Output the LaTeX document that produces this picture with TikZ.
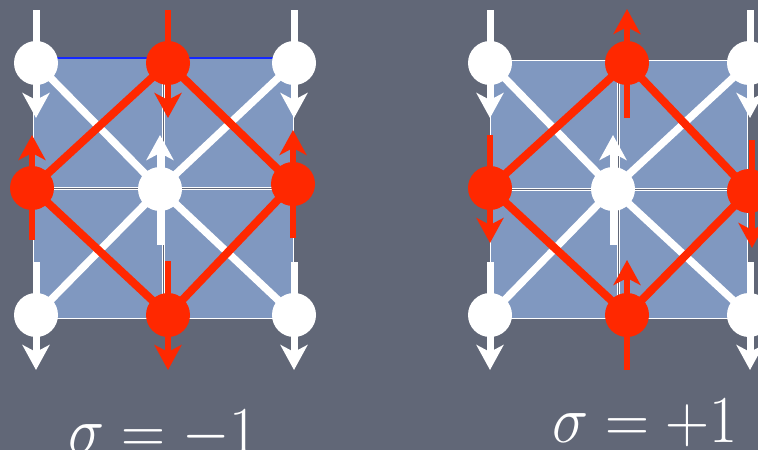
\RequirePackage{fix-cm}
\documentclass[tikz,border=0pt]{standalone}
\usepackage{graphicx}
\usetikzlibrary{arrows.meta}
\definecolor{bgc}{RGB}{97,103,119}
\definecolor{tilec}{RGB}{128,152,192}
\definecolor{redc}{RGB}{255,40,0}
\definecolor{edgeblue}{RGB}{20,40,255}
\pgfdeclarelayer{bg}
\pgfdeclarelayer{lines}
\pgfsetlayers{bg,lines,main}
\begin{document}
\begin{tikzpicture}[x=1pt,y=-1pt,
  tile/.style={fill=tilec,draw=white,line width=1pt},
  wdot/.style={circle,fill=white,minimum size=44pt,inner sep=0pt},
  rdot/.style={circle,fill=redc,minimum size=44pt,inner sep=0pt},
  wline/.style={draw=white,line width=7.5pt},
  rline/.style={draw=redc,line width=8pt,line join=round},
  tipshape/.style={-{Stealth[length=25pt,width=27pt,inset=7pt]}},
  warrow/.style={draw=white,line width=7pt,tipshape},
  rarrow/.style={draw=redc,line width=6.5pt,tipshape},
  lbl/.style={text=white,inner sep=0pt,anchor=base,font=\fontsize{61}{64}\selectfont}
]
\useasboundingbox (0,0) rectangle (758,450);
\begin{pgfonlayer}{bg}
  \fill[bgc] (0,0) rectangle (758,450);
  % left tiles
  \draw[tile] (33,58) rectangle (162,187);
  \draw[tile] (164,58) rectangle (293,187);
  \draw[tile] (33,189) rectangle (162,318);
  \draw[tile] (164,189) rectangle (293,318);
  \draw[edgeblue,line width=1.5pt] (33,58) -- (293,58);
  % right tiles
  \draw[tile] (490,60) rectangle (617,188);
  \draw[tile] (619,60) rectangle (747,188);
  \draw[tile] (490,190) rectangle (617,318);
  \draw[tile] (619,190) rectangle (747,318);
\end{pgfonlayer}

% ---------- left figure: sites ----------
\node[wdot] (Ltl) at (36,63) {};
\node[rdot] (Lt)  at (168,63) {};
\node[wdot] (Ltr) at (294,63) {};
\node[rdot] (Ll)  at (32,188) {};
\node[wdot] (Lc)  at (160,189) {};
\node[rdot] (Lr)  at (293,184) {};
\node[wdot] (Lbl) at (36,315) {};
\node[rdot] (Lb)  at (168,315) {};
\node[wdot] (Lbr) at (294,315) {};

% ---------- right figure: sites ----------
\node[wdot] (Rtl) at (490,63) {};
\node[rdot] (Rt)  at (627,63) {};
\node[wdot] (Rtr) at (749,63) {};
\node[rdot] (Rl)  at (490,188) {};
\node[wdot] (Rc)  at (613,189) {};
\node[rdot] (Rr)  at (749,191) {};
\node[wdot] (Rbl) at (490,315) {};
\node[rdot] (Rb)  at (627,315) {};
\node[wdot] (Rbr) at (749,315) {};

% arrow end points, left
\coordinate (La1s) at (36,10);   \coordinate (La1e) at (36,118);
\coordinate (La2s) at (32,240);  \coordinate (La2e) at (32,135);
\coordinate (La3s) at (36,262);  \coordinate (La3e) at (36,370);
\coordinate (La4s) at (168,10);  \coordinate (La4e) at (168,118);
\coordinate (La5s) at (160,245); \coordinate (La5e) at (160,135);
\coordinate (La6s) at (168,261); \coordinate (La6e) at (168,370);
\coordinate (La7s) at (294,10);  \coordinate (La7e) at (294,118);
\coordinate (La8s) at (293,238); \coordinate (La8e) at (293,130);
\coordinate (La9s) at (294,262); \coordinate (La9e) at (294,370);
% arrow end points, right
\coordinate (Ra1s) at (490,10);  \coordinate (Ra1e) at (490,118);
\coordinate (Ra2s) at (490,135); \coordinate (Ra2e) at (490,243);
\coordinate (Ra3s) at (490,262); \coordinate (Ra3e) at (490,370);
\coordinate (Ra4s) at (627,118); \coordinate (Ra4e) at (627,9);
\coordinate (Ra5s) at (613,245); \coordinate (Ra5e) at (613,135);
\coordinate (Ra6s) at (627,370); \coordinate (Ra6e) at (627,260);
\coordinate (Ra7s) at (750,10);  \coordinate (Ra7e) at (750,118);
\coordinate (Ra8s) at (752,140); \coordinate (Ra8e) at (752,248);
\coordinate (Ra9s) at (750,262); \coordinate (Ra9e) at (750,370);

\begin{pgfonlayer}{lines}
  % white diagonals
  \draw[wline] (Ltl.center) -- (Lc.center) -- (Lbr.center);
  \draw[wline] (Ltr.center) -- (Lc.center) -- (Lbl.center);
  \draw[wline] (Rtl.center) -- (Rc.center) -- (Rbr.center);
  \draw[wline] (Rtr.center) -- (Rc.center) -- (Rbl.center);
  % red diamonds
  \draw[rline] (Lt.center) -- (Ll.center) -- (Lb.center) -- (Lr.center) -- cycle;
  \draw[rline] (Rt.center) -- (Rl.center) -- (Rb.center) -- (Rr.center) -- cycle;
  % spins, left
  \draw[warrow] (La1s) -- (La1e);
  \draw[rarrow] (La2s) -- (La2e);
  \draw[warrow] (La3s) -- (La3e);
  \draw[rarrow] (La4s) -- (La4e);
  \draw[warrow] (La5s) -- (La5e);
  \draw[rarrow] (La6s) -- (La6e);
  \draw[warrow] (La7s) -- (La7e);
  \draw[rarrow] (La8s) -- (La8e);
  \draw[warrow] (La9s) -- (La9e);
  % spins, right
  \draw[warrow] (Ra1s) -- (Ra1e);
  \draw[rarrow] (Ra2s) -- (Ra2e);
  \draw[warrow] (Ra3s) -- (Ra3e);
  \draw[rarrow] (Ra4s) -- (Ra4e);
  \draw[warrow] (Ra5s) -- (Ra5e);
  \draw[rarrow] (Ra6s) -- (Ra6e);
  \draw[warrow] (Ra7s) -- (Ra7e);
  \draw[rarrow] (Ra8s) -- (Ra8e);
  \draw[warrow] (Ra9s) -- (Ra9e);
\end{pgfonlayer}

\node[lbl] (labL) at (163,453) {\scalebox{1}[1.1]{$\sigma = -1$}};
\node[lbl] (labR) at (645,442) {\scalebox{1}[1.1]{$\sigma = +1$}};
\end{tikzpicture}
\end{document}
